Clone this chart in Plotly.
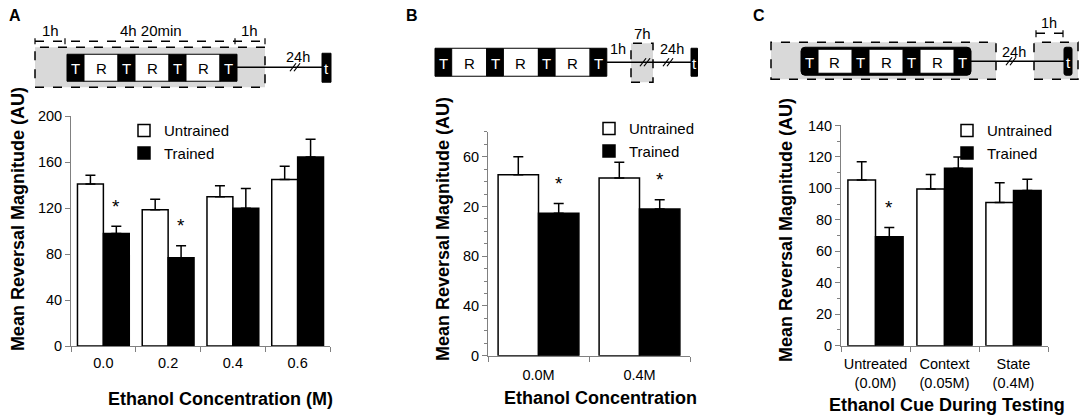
import plotly.graph_objects as go

W, H = 1084, 419
# the page capture adds ~8px on top and squeezes the height by 419/435,
# so positions (measured on the target picture) are mapped back to page pixels
SY = 419 / 435
OY = 8 * SY
HF = 426
FONT = "Liberation Sans, Arial, sans-serif"
GRAY = "#808080"

# ---- data ----
conc_a = ["0.0", "0.2", "0.4", "0.6"]
untrained_a = [141, 118.6, 130, 145]
untrained_a_sem = [7.7, 9.2, 9.4, 11.5]
trained_a = [98, 76.8, 120, 164.6]
trained_a_sem = [6.3, 10.4, 17, 15.4]
sig_a = [True, True, False, False]

conc_b = ["0.0M", "0.4M"]
untrained_b = [145.6, 143]
untrained_b_sem = [14.4, 12.5]
trained_b = [114.5, 118]
trained_b_sem = [8, 7.5]
sig_b = [True, True]
ticks_b = [0, 40, 80, 120, 160]
ticktext_b = ["0", "40", "80", "20", "60"]   # labels as printed in the original

cue_c = ["Untreated<br>(0.0M)", "Context<br>(0.05M)", "State<br>(0.4M)"]
untrained_c = [105.3, 99.6, 91.1]
untrained_c_sem = [11.7, 9.3, 12.5]
trained_c = [69.3, 112.9, 98.7]
trained_c_sem = [5.9, 7.1, 7.2]
sig_c = [True, False, False]

BARGAP = 0.2


def px(x):
    return x / W


def py(y):
    return 1 - ((y - OY) / SY) / HF


panels = [
    # suffix, cats, untrained, u_sem, trained, t_sem, sig, x-domain px, y-domain px (bottom, top)
    ("", conc_a, untrained_a, untrained_a_sem, trained_a, trained_a_sem, sig_a, (71, 330), (346, 116)),
    ("2", conc_b, untrained_b, untrained_b_sem, trained_b, trained_b_sem, sig_b, (488, 690), (355.7, 131.7)),
    ("3", cue_c, untrained_c, untrained_c_sem, trained_c, trained_c_sem, sig_c, (841, 1048), (345.7, 125.3)),
]

fig = go.Figure()
annotations = []

for n, cats, u, u_sem, t, t_sem, sig, xd, yd in panels:
    leg = "legend" + n
    fig.add_trace(go.Bar(
        x=cats, y=u, name="Untrained", xaxis="x" + n, yaxis="y" + n, legend=leg,
        marker=dict(color="white", line=dict(color="black", width=1.5)),
        error_y=dict(type="data", array=u_sem, arrayminus=[0] * len(u), symmetric=False,
                     color="black", thickness=1.5, width=5),
    ))
    fig.add_trace(go.Bar(
        x=cats, y=t, name="Trained", xaxis="x" + n, yaxis="y" + n, legend=leg,
        marker=dict(color="black", line=dict(color="black", width=1.5)),
        error_y=dict(type="data", array=t_sem, arrayminus=[0] * len(t), symmetric=False,
                     color="black", thickness=1.5, width=5),
    ))
    # significance stars above the trained bars (x given as category index)
    catw = (xd[1] - xd[0]) / len(cats)
    for k, (m, s, flag) in enumerate(zip(t, t_sem, sig)):
        if flag:
            annotations.append(dict(
                x=k, y=m + s, xref="x" + n, yref="y" + n, text="*", showarrow=False,
                xshift=catw * (1 - BARGAP) / 4, yshift=20, yanchor="middle",
                font=dict(size=19, family=FONT, color="black"),
            ))

axis_common = dict(showline=True, linecolor=GRAY, linewidth=1, ticks="outside",
                   tickcolor=GRAY, ticklen=5, showgrid=False, zeroline=False,
                   tickfont=dict(size=14.5, family=FONT, color="black"))

fig.update_layout(
    xaxis=dict(domain=[px(71), px(330)], anchor="y", tickson="boundaries", tickangle=0,
               ticklabelstandoff=4, **axis_common),
    yaxis=dict(domain=[py(346), py(116)], anchor="x", range=[0, 200], dtick=40, **axis_common),
    xaxis2=dict(domain=[px(488), px(690)], anchor="y2", tickson="boundaries", tickangle=0,
                ticklabelstandoff=6, **axis_common),
    yaxis2=dict(domain=[py(355.7), py(131.7)], anchor="x2", range=[0, 180],
                tickvals=ticks_b, ticktext=ticktext_b,
                minor=dict(dtick=10, ticks="outside", ticklen=3, tickcolor=GRAY), **axis_common),
    xaxis3=dict(domain=[px(841), px(1048)], anchor="y3", tickson="boundaries", tickangle=0,
                ticklabelstandoff=5, **axis_common),
    yaxis3=dict(domain=[py(345.7), py(125.3)], anchor="x3", range=[0, 140], dtick=20,
                minor=dict(dtick=10, ticks="outside", ticklen=3, tickcolor=GRAY), **axis_common),
)

leg_common = dict(xanchor="left", yanchor="top", bgcolor="rgba(0,0,0,0)", tracegroupgap=0,
                  font=dict(size=15, family=FONT, color="black"))
fig.update_layout(
    legend=dict(x=px(124), y=py(114), **leg_common),
    legend2=dict(x=px(589), y=py(112), **leg_common),
    legend3=dict(x=px(947), y=py(114), **leg_common),
)

# axis titles
title_font = dict(size=18, family=FONT, color="black")
for x, y, txt in [(18, 219, "Mean Reversal Magnitude (AU)"),
                  (443, 229, "Mean Reversal Magnitude (AU)"),
                  (786, 230, "Mean Reversal Magnitude (AU)")]:
    annotations.append(dict(x=px(x), y=py(y), xref="paper", yref="paper", text="<b>" + txt + "</b>",
                            textangle=-90, showarrow=False, font=title_font,
                            xanchor="center", yanchor="middle"))
for x, y, txt in [(220, 399, "Ethanol Concentration (M)"),
                  (600, 398, "Ethanol Concentration"),
                  (947, 405, "Ethanol Cue During Testing")]:
    annotations.append(dict(x=px(x), y=py(y), xref="paper", yref="paper", text="<b>" + txt + "</b>",
                            showarrow=False, font=dict(size=18, family=FONT, color="black"),
                            xanchor="center", yanchor="middle"))

# ---- protocol schematics above each panel ----
shapes = []


def label(x, y, txt, size=15, color="black", bold=False):
    annotations.append(dict(x=px(x), y=py(y), xref="paper", yref="paper",
                            text=("<b>%s</b>" % txt) if bold else txt, showarrow=False,
                            font=dict(size=size, family=FONT, color=color),
                            xanchor="center", yanchor="middle"))


def rect(x0, y0, x1, y1, fill, line="black", width=1, dash="solid"):
    shapes.append(dict(type="rect", xref="paper", yref="paper",
                       x0=px(x0), x1=px(x1), y0=py(y1), y1=py(y0),
                       fillcolor=fill, line=dict(color=line, width=width, dash=dash), layer="above"))


def seg(x0, y0, x1, y1, width=1.5, dash="solid"):
    shapes.append(dict(type="line", xref="paper", yref="paper",
                       x0=px(x0), x1=px(x1), y0=py(y0), y1=py(y1),
                       line=dict(color="black", width=width, dash=dash), layer="above"))


def rounded(x0, y0, x1, y1, r, fill):
    p = (f"M {px(x0 + r)},{py(y0)} L {px(x1 - r)},{py(y0)} Q {px(x1)},{py(y0)} {px(x1)},{py(y0 + r)} "
         f"L {px(x1)},{py(y1 - r)} Q {px(x1)},{py(y1)} {px(x1 - r)},{py(y1)} "
         f"L {px(x0 + r)},{py(y1)} Q {px(x0)},{py(y1)} {px(x0)},{py(y1 - r)} "
         f"L {px(x0)},{py(y0 + r)} Q {px(x0)},{py(y0)} {px(x0 + r)},{py(y0)} Z")
    shapes.append(dict(type="path", xref="paper", yref="paper", path=p,
                       fillcolor=fill, line=dict(color=fill, width=1), layer="above"))


def sessions(x0, y0, y1, tw, rw, black_bg=False):
    x = x0
    for ch in "TRTRTRT":
        w = tw if ch == "T" else rw
        if ch == "T":
            if not black_bg:
                rect(x, y0, x + w, y1, "black", width=1)
            label(x + w / 2, (y0 + y1) / 2 + 1, "T", size=15, color="white")
        else:
            inset = 2 if black_bg else 0
            rect(x, y0 + inset, x + w, y1 - inset, "white", width=1)
            label(x + w / 2, (y0 + y1) / 2 + 1, "R", size=15)
        x += w
    return x


def brk(x, y):
    for dx in (-2, 2):
        seg(x + dx - 3, y + 4, x + dx + 3, y - 4, width=1.2)


# panel A schematic
label(15, 15, "A", size=16, bold=True)
rect(35, 47, 265, 87, "#d9d9d9", width=1.5, dash="dash")
seg(35, 41, 265, 41, dash="dash")
for xt in (35, 65, 235, 265):
    seg(xt, 38, xt, 44, width=1.2)
label(50, 30, "1h")
label(151, 30, "4h 20min")
label(249, 30, "1h")
xe = sessions(67, 54, 81, 17, 34)
seg(xe, 67, 322, 67)
brk(295, 67)
label(298, 57, "24h", size=14.5)
rect(322, 53, 331, 82, "black")
label(326.5, 68, "t", size=15, color="white")

# panel B schematic
label(412, 15, "B", size=16, bold=True)
xe = sessions(435, 48, 76, 16.7, 35)
seg(xe, 62, 691, 62)
rect(631, 43, 653, 82, "#d9d9d9", width=1.5, dash="dash")
seg(631, 62, 653, 62)
brk(645, 62)
brk(668, 62)
label(642, 33, "7h")
label(618, 49, "1h", size=14.5)
label(672, 49, "24h", size=14.5)
rect(691, 48, 697.5, 76, "black")
label(694.5, 63, "t", size=15, color="white")

# panel C schematic
label(759, 15, "C", size=16, bold=True)
rect(771, 42, 996, 79, "#d9d9d9", width=1.5, dash="dash")
rect(1034, 42, 1078, 79, "#d9d9d9", width=1.5, dash="dash")
rounded(801, 47, 971, 75, 4, "black")
sessions(801, 47, 75, 17, 34, black_bg=True)
seg(971, 61, 1065, 61)
brk(1011, 61)
label(1014, 52, "24h", size=14.5)
rounded(1064, 47, 1072, 75, 2, "black")
label(1068, 62, "t", size=15, color="white")
seg(1036, 33, 1063, 33, dash="dash")
for xt in (1036, 1063):
    seg(xt, 30, xt, 37, width=1.2)
label(1049, 23, "1h", size=14.5)

fig.update_layout(
    width=W, height=HF, margin=dict(l=0, r=0, t=0, b=0),
    paper_bgcolor="white", plot_bgcolor="white",
    barmode="group", bargap=BARGAP, bargroupgap=0,
    font=dict(family=FONT, color="black"),
    annotations=annotations, shapes=shapes,
)

# drop the browser's default body margin so the figure sits at the page origin
fig.write_html("out.html", config={"displayModeBar": False},
               post_script="document.body.style.margin='0px';")
